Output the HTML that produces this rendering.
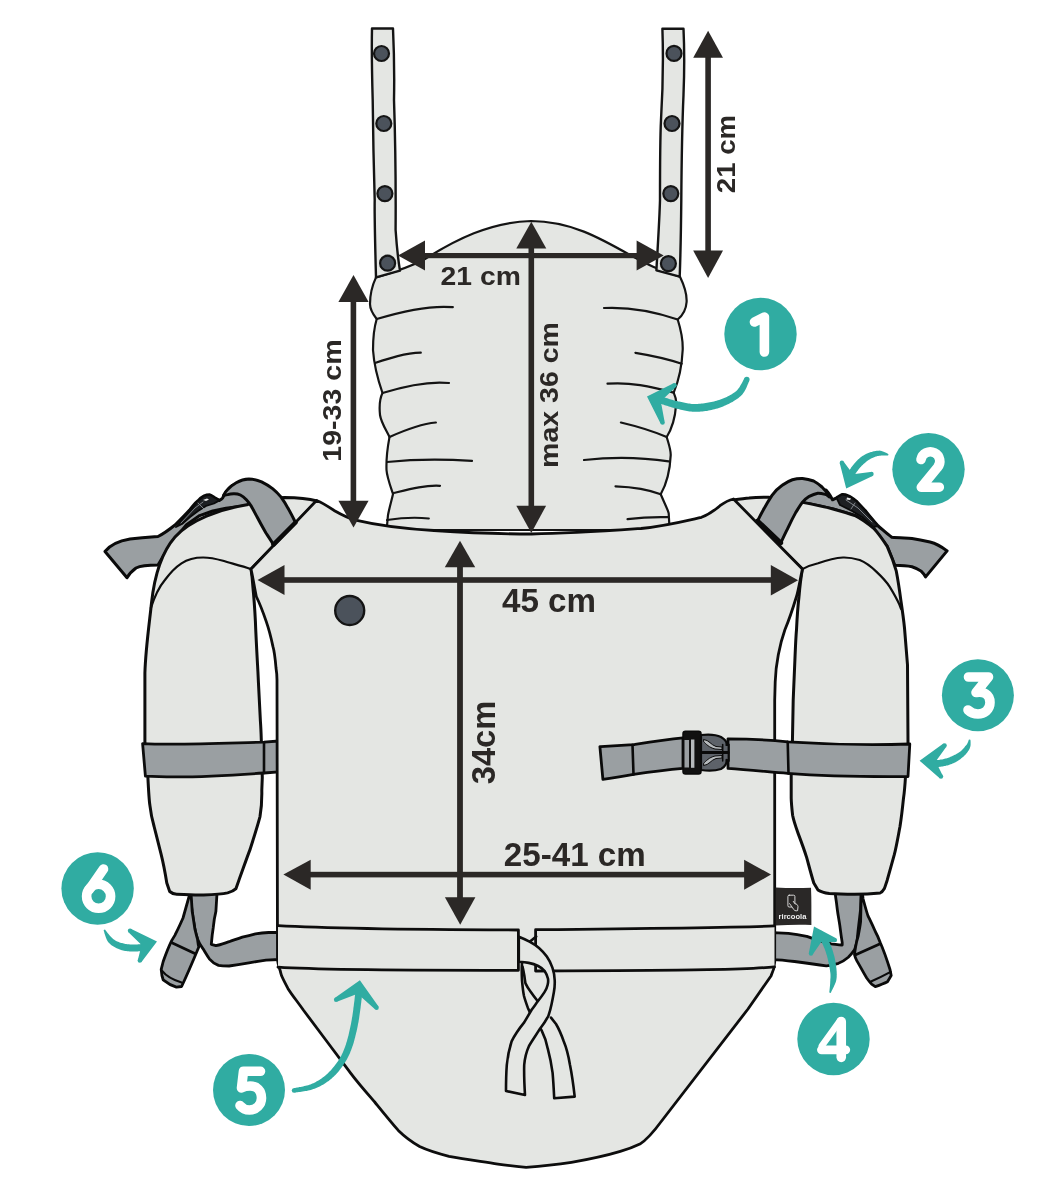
<!DOCTYPE html>
<html><head><meta charset="utf-8">
<style>
html,body{margin:0;padding:0;background:#fff;}
body{width:1062px;height:1204px;overflow:hidden;}
svg{display:block;will-change:transform;}
.t{font-family:"Liberation Sans",sans-serif;font-weight:bold;fill:#2b2826;}
</style></head>
<body>
<svg width="1062" height="1204" viewBox="0 0 1062 1204">
<g stroke-linejoin="round" stroke-linecap="round">

<!-- ===== wing straps (behind pads) ===== -->
<path d="M105,551.5 C110,545 118,541 130,539 C145,537.5 152,537 158,536.5 C165,533 170,529 175,525 C180,520 185,515 189.8,509.7 C193,506 195,503 197.7,501.1 C200,498 202,497 204.3,495.8 C206,495 208,494.8 209.6,494.8 C211,495 213,496.5 214.8,497.8 L219.4,500.4 C221,499.5 222,498.8 222.7,497.8 L226,491.9 C228,489 230,487 232.6,485.3 L258,498 L252,505 L240,506.4 L226,508.3 L212.8,511 L199.7,515.6 L186.5,524.8 L170,545 L158,565 C148,565 140,566 136,568 C132,571 129,574 127,577.7 Z" fill="#9a9fa2" stroke="#0a0a0a" stroke-width="3"/>
<path d="M176,527 L184,518 L190,511 L197.7,501.1 L204.3,495.8 L209.6,494.8 L214.8,497.8 L219.4,500.4 L214,503.5 L206,506 L198,511 L190,517 L182,524 Z" fill="#1d1f22" stroke="#0a0a0a" stroke-width="1.8"/><path d="M181,523 L195,508 L203,502 M198,503 L204,509" stroke="#8a8f94" stroke-width="0.9" fill="none"/><path d="M203,500 L207,498.5 L209,499.5 L206,501 Z" fill="#e8e8e8"/>
<path d="M947.1,550.9 C940,545.5 936,543.5 930,542 C920,539.5 915,538.8 912,538.4 C905,538 898,537.8 891.8,537.3 C887,534 883,530 878.2,526 C873,520 868,514 866.1,511.6 C862,507 859,504 856.3,501.1 C853,498.5 851,497 848.3,495.8 C846,494.8 844,494.4 842.4,494.5 C840,495.5 838,497 836.5,497.8 L832.5,499.8 C831,497 830,495 828.6,493.2 L826,490 L800,496 L795,512 L808,503.4 L833,509 L855.6,515.8 L873.7,528.3 L887.2,546.4 L894.8,565.3 C903,565.5 908,566 912,566.7 C916,568 919,569.5 921.1,571.2 C923,573 924.5,575 925.6,576.9 Z" fill="#9a9fa2" stroke="#0a0a0a" stroke-width="3"/>
<path d="M836.5,497.8 L842.4,494.5 L848.3,495.8 L856.3,501.1 L866.1,511.6 L878,526 L873,527 L862,517 L852,511 L840,505 Z" fill="#1d1f22" stroke="#0a0a0a" stroke-width="1.8"/><path d="M846,500 L858,508 L872,522 M855,503 L851,509" stroke="#8a8f94" stroke-width="0.9" fill="none"/><path d="M847,497.5 L851,498.5 L850,500 L846.5,499.5 Z" fill="#e8e8e8"/>

<!-- hanging straps left -->
<path d="M189.5,885 L190.2,895.5 C191,902 191.5,907 192.2,911.4 C193,918 194,924 194.8,928.5 C195.5,933 196.5,936 197.5,939 C199,943 201,946 202.7,948.3 C205,952 207,955.5 209.3,958.8 C212,962 215,964 218.5,965.4 C222,966 226,966 229.1,966 C236,965 242,964 248.9,962.8 C255,961.8 260,961 266,960.1 L279,959.5 L279,932.5 L268.6,932.5 C264,932.8 260,933.2 255.5,933.8 C251,935 247,936 242.3,937.1 C238,938.5 234,940 229.1,941.7 C225,943 220,945 215.9,945.6 L211.3,944.3 C211.8,938 212.5,932 213.3,927.2 C214,920 215,915 215.9,911.4 L217.5,885 Z" fill="#9a9fa2" stroke="#0a0a0a" stroke-width="2.8"/>
<path d="M191,885 L189.5,895 C187,904 185,911 183,918 C180,925 177.5,930 175,935.1 L171.8,940.4 C168,948 165.5,955 163.2,961.5 L161.2,969.4 C161.5,974 162,977 163.2,979.9 C167,983 171,985.5 176.4,987.2 L181.6,986.5 C187,975 193,961 198.8,947 C198,944 197.8,941 197.5,939 C196,934 195.5,931 194.8,928.5 C193.8,922 193,916 192.2,911.4 L190.5,885 Z" fill="#9a9fa2" stroke="#0a0a0a" stroke-width="2.8"/>
<path d="M172.4,943 L194.8,953.5" fill="none" stroke="#0a0a0a" stroke-width="2.8"/>
<path d="M161.9,970.7 C166,976 173,980 181.6,982.5" fill="none" stroke="#0a0a0a" stroke-width="2.2"/>

<!-- hanging straps right -->
<path d="M835,885 L835.5,896 C836.3,901 836.8,905 837.3,909.5 C838,915 839,920 839.8,925.4 C840.5,931 841.3,937 842.2,942.5 L842.2,945 C838,944.6 835,944.2 831.2,943.8 C828,943 825,942 821.4,941.3 C816,939.5 811,938 806.7,936.4 C800,935 794,934 788.4,933.3 L773,932.7 L773,959.7 C780,960 787,960.7 794.5,961.5 C800,962.2 806,963 812.8,964 C817,964.7 821,965.3 826.3,965.8 C830,965.5 834,964.5 838.5,963.3 C842,962 845,960 848.3,957.2 C851,954.5 853,952 854.5,949.9 C855.5,947 856.2,945 856.9,942.5 C857.5,937 858,931 858.7,925.4 C859.5,919 860,914 860.6,909.5 L861.5,885 Z" fill="#9a9fa2" stroke="#0a0a0a" stroke-width="2.8"/>
<path d="M861.5,885 L861.2,897 C861,905 860.8,913 860.6,921.7 C860,927 859,932 858.1,936.4 C857,940 856.3,943 855.7,946.2 C855,950 854.7,952 854.5,954.8 C855,957 855.8,959 856.9,960.9 C860,966 863,972 866.7,978 C868.5,980.5 870,982.5 871.6,984.1 L875.3,986.6 C880,985 884,983.5 887.5,981.7 L891.2,975.6 L890,969.5 C887,960 884,951 880.2,942.5 C878.5,938 877,934.5 875.3,931.5 C872.5,925 870,920 867.9,915.6 C866,910 864.5,904 863,898.5 Z" fill="#9a9fa2" stroke="#0a0a0a" stroke-width="2.8"/>
<path d="M855.7,954.8 L880.2,943.8" fill="none" stroke="#0a0a0a" stroke-width="2.8"/>
<path d="M870.4,981.7 C877,979 884,975.5 890.6,971.9" fill="none" stroke="#0a0a0a" stroke-width="2.2"/>

<!-- ===== arm pads ===== -->
<path d="M317,501 C310,499 300,497.5 284.5,497.4 C270,498 255,501 246.8,504.8 C220,509 190,520 175,537 C162,552 154.5,575 151.5,603 C149.5,622 145.5,650 144.9,673 L144.9,743.6 C146,760 147,770 147.8,775.6 C148.5,790 149,800 149.9,805.3 C151,815 152.5,821 154.1,826.5 C156.5,836 159,846 161.2,854.7 C163.5,864 165.5,875 166.8,883 L169.7,891.5 C172,893.5 174,894.3 176.7,894.3 C190,895 200,895.2 203.6,895 C215,894.5 222,894 227.6,892.9 C231,892 234,890.5 236,888.6 L238.9,880.2 C242,872 246,860 250.2,849.1 C253,840 257,828 260,816.6 C261.5,808 262,800 261.8,790 L262.3,777.5 L261.3,740 C261,730 260.7,725 260.4,721.1 C259.5,705 258.7,688 257.9,671.3 C257,655 256,638 255.4,621.4 C254.8,610 254,598 253,588.2 C252.5,580 251.8,574 251,569.1 Z" fill="#e4e6e3" stroke="#0d0d0d" stroke-width="3"/>
<path d="M150.8,608.2 C155,595 159,587 164.9,580 C170,573 175,567.5 181.5,563.3 C188,559 195,557.5 203.1,557.5 C210,557.5 216,558.8 223,560.8 C232,563.5 242,566 251,569.1" fill="none" stroke="#0d0d0d" stroke-width="2.2"/>

<path d="M733,500 C740,499 745,498.3 749,498 C756,497.3 762,497.2 768.5,497.2 C785,498.5 795,500.5 808,503.4 C818,505.5 826,507 833,509 C842,511.5 849,513.5 855.6,515.8 C862,519 868,523.5 873.7,528.3 C879,534 883,540 887.2,546.4 C891,555 894,563 896.3,571.2 C898,580 899.5,590 900.8,600 C902,608 903.5,618 904.5,628 C905.5,640 906.5,652 907.5,665 L908,742.8 L905.6,775 C905,785 904.5,792 903.5,798.2 C902.5,808 901.5,817 900,826.5 C898,837 896.5,846 894.3,854.7 C892,863 889.5,872 887.2,880.2 L884.4,888.6 C883,891 881.5,892.5 880.2,892.9 C870,894 862,894.3 854.7,894.3 C845,894.3 835,894 829.3,893.6 C825,893 821,892 818,890 L813.8,883 C811,874 809,866 806.7,857.6 C804,849 801,841 798.2,833.6 C795.5,826 793.5,820 792.6,815.2 C791.8,808 791.3,803 791.2,798.2 L791.2,774.2 L792.4,742.8 C792.8,725 793,712 793.2,700 C794,680 794.5,670 794.9,660 C795.5,645 796,635 796.5,629.8 C797.2,615 798,605 799,596.5 C800,585 801,577 802.4,569.1 Z" fill="#e4e6e3" stroke="#0d0d0d" stroke-width="3"/>
<path d="M802.4,569.1 C808,566 813,564.5 818.1,563.3 C826,560.5 835,558 843,557.5 C849,557.3 854,558.3 859.7,560 C866,562.5 871,566.5 876.3,571.6 C881,576 886,581 889.6,586.6 C893.5,593 897,599 899.5,604.8 L901,609" fill="none" stroke="#0d0d0d" stroke-width="2.2"/>

<!-- arm bands -->
<path d="M142.6,743.6 C175,745.5 230,743 264,742.2 L279,741 L279,771.9 L264,773 C230,775.5 175,778 145.4,776.1 Z" fill="#9a9fa2" stroke="#0d0d0d" stroke-width="2.8"/>
<path d="M264,742.2 L264,773" fill="none" stroke="#0d0d0d" stroke-width="2.6"/>

<!-- ===== loops (gray) ===== -->
<path d="M223.5,495.4 C225,492.5 226,491 227.7,489.5 C230.5,486.5 233,484.5 236.2,482.7 C240,480.5 244.5,479 248.9,478.9 C253.5,479 257.5,480.2 261.6,481.9 C265.5,483.8 269,486 272.6,488.6 C275.8,491.2 278.5,494 281.1,497.1 C283.5,500.5 285.8,504 287.9,508.1 C290.5,512.5 293,517.5 295.5,522.5 L273.5,544.6 C271,540.5 268.5,536.8 265.8,532.7 C262.8,527.5 260,522.5 257.4,517.5 C255.2,513.5 253.3,509.8 251.4,506.4 C249.8,503.8 248.2,501.6 246.4,499.7 C244.5,497.7 242.5,496 240.4,495 C238.3,494 236,493.6 233.6,493.7 C231.5,493.8 229.5,494.1 227.7,494.6 Z" fill="#9a9fa2" stroke="#0a0a0a" stroke-width="3"/>
<path d="M757.6,520.8 C762,512 767,503 772,495.4 C776,490 779,487.5 782.2,485.3 C786,482.5 789,480.8 792.4,479.7 C796,478.7 799,478.4 802.5,478.5 C806.5,479 810,479.8 813.6,481 C817,482.8 819.5,484.8 822,487 C824.5,489.5 826.5,492 828,494.6 L829.5,497 L826.3,494.6 C823,493.8 821,493.2 817.8,493.3 C814.5,494 812,495 809.3,496.3 C806.5,498 804.5,500 802.5,502.2 C800,505.5 798,509 795.8,512.4 C793,517.5 790.5,522.5 788.1,527.6 C785.5,533 783,538 780.9,542.9 Z" fill="#9a9fa2" stroke="#0a0a0a" stroke-width="3"/>

<!-- ===== headrest ===== -->
<path d="M376,277.4 C395,272 410,267 425,259 C455,240 490,222 531,221 C570,221 600,238 630,255 C645,263 660,271 680,276.7 C684,285 687,295 686.6,302 C686,311 682,316 677.7,319.5 C681,330 683,340 682.7,349.8 C682,365 679,380 673.7,392.6 C676,398 677,402 676,405.6 C675,420 671,430 666.7,437 C669,445 671,450 670.7,455.4 C670,470 666,485 660.7,494.3 C664,502 668,510 668.7,513.2 L669.6,530 L386.6,530 L388,515 C390,505 392,499 393,494 C390,485 387,477 386.5,470 C386,455 388,445 389.5,437 C385,428 381,422 380,415 C379,405 380,398 382.5,393 C378,380 374,365 373,350 C373,338 374,328 376.7,319 C372,313 370,309 370,304 C370,295 372,286 376,277.4 Z" fill="#e4e6e3" stroke="#141414" stroke-width="2.2"/>
<g fill="none" stroke="#141414" stroke-width="2.2">
<path d="M376.7,319 C400,312 430,305 452.8,307.2"/>
<path d="M375,363 C390,358 405,353 420.8,352.7"/>
<path d="M382.5,393 C405,386 430,381 449,383"/>
<path d="M389.5,437 C405,430 420,424 435.9,422.5"/>
<path d="M387,462 C415,459 445,459 472,460.9"/>
<path d="M393.6,493 C410,489 425,485 440,485.8"/>
<path d="M387,520 C400,518 415,517 428.8,518.5"/>
<path d="M604,308 C625,307 650,310 677.7,319.5"/>
<path d="M635.4,352.8 C655,356 668,359 681.7,363.7"/>
<path d="M607.5,383.7 C630,382 650,386 673.7,392.6"/>
<path d="M620.9,422.5 C640,427 655,432 666.7,437"/>
<path d="M584,460 C610,457 640,457 668.7,461.4"/>
<path d="M615.5,486.3 C635,487 650,490 660.7,494.3"/>
<path d="M627.5,519.2 C645,517 660,517 667.7,517.2"/>
</g>

<!-- ===== top straps ===== -->
<path d="M372,28.5 L393,28.5 C394,50 394.5,75 394,100 C395,130 396,170 395.6,230 C397,250 398.5,262 400,270.7 L376,277.4 C375,240 374.5,210 374.7,200 C373.5,160 373,130 372.7,100 C372,75 371.5,50 372,28.5 Z" fill="#e4e6e3" stroke="#141414" stroke-width="2.4"/>
<path d="M662.4,28.8 L683.5,28.8 C684.5,50 684.5,70 683.5,95 C682,130 681.5,170 681.3,200 C681,230 680.5,255 679.7,276.7 L656.4,270.3 C657.5,250 659.5,220 660,200 C660,170 660,140 661,120 C662.5,95 663.5,60 662.4,28.8 Z" fill="#e4e6e3" stroke="#141414" stroke-width="2.4"/>
<g fill="#4b525b" stroke="#141414" stroke-width="2.2">
<circle cx="381.5" cy="53.5" r="7.5"/>
<circle cx="383.8" cy="123.5" r="7.5"/>
<circle cx="384.9" cy="193.6" r="7.5"/>
<circle cx="387.6" cy="263.2" r="7.5"/>
<circle cx="674" cy="53.4" r="7.5"/>
<circle cx="672" cy="123.5" r="7.5"/>
<circle cx="670.8" cy="193.6" r="7.5"/>
<circle cx="668.4" cy="263.6" r="7.5"/>
</g>

<!-- ===== body ===== -->
<path d="M316.5,500.5 C323,503 329,507 335,511 C342,515 348,518 355.6,520.2 C380,526 405,529 434,530.5 C465,532.5 500,534 531.6,534 C570,533.5 605,531 641,528.5 C665,526 685,521 701.5,517.3 C710,514 715,510 720,505.7 C725,502 729,500 733.5,499 L802.4,569.1 C800,580 798.5,590 796.5,596.5 C793,608 789,620 784.9,629.8 C782,638 780,646 778.3,654.7 C776.5,664 775.5,672 775.2,682 C775,690 774.8,695 774.7,700 L774.7,962 C774.5,968 773,972 771,976 L748,1009 L662,1120.5 C655,1130 648,1139 639.9,1144.1 C633,1147.5 627,1149.5 620.3,1151.4 C605,1156 588,1159.5 571.4,1162.4 C556,1164.8 541,1166.3 526.1,1167.3 C516,1166.4 507,1165.5 497.9,1164.1 C482,1161.5 466,1159.5 449,1156.3 C438,1153.5 428,1150.5 419.6,1146.5 C412,1142 405,1137 398.3,1130.4 C390,1121 382,1111 374.7,1102 C366,1092 358,1083 351,1073.6 L327.3,1042 L303.7,1010.5 C297,1001 292,995 287.9,988.4 C285,983 283,979 281.6,975.8 C280.8,973 280.4,972 280.3,971 C278.5,966 277.5,962 277.5,958 L277,680 C277,675 276.5,671 276,668 C275,656 274,650 272.9,646.4 C270.5,635 268.5,628 266.2,621.4 C263,612 259.5,603 256.3,596.5 C254.5,588 253,578 251,569.1 Z" fill="#e4e6e3" stroke="#0d0d0d" stroke-width="2.8"/>

<path d="M295.5,522.5 L273.5,544.6 M757.6,520.8 L780.9,542.9" stroke="#0a0a0a" stroke-width="4.5" fill="none"/>
<!-- waistband -->
<path d="M278,925.6 C320,928 400,929.5 518.4,930 L518.4,970.3 C400,970.5 320,970 278,967.2" fill="#e4e6e3" stroke="#0d0d0d" stroke-width="2.8"/>
<path d="M774.5,925.9 C750,927 700,928 535.6,929.7 L535.6,971 C700,970.5 750,969.5 774.5,966.8" fill="#e4e6e3" stroke="#0d0d0d" stroke-width="2.8"/>

<!-- tie ribbon -->
<g fill="none" stroke="#0d0d0d" stroke-width="2.6">
<path d="M530,941.5 L536.2,936.5"/>
<path d="M522,962.9 C521.5,970 521.8,976 522,980.3 C522.5,986 523,991 524,996 C525,1000 526.5,1004 527.9,1007.9 C530,1013 533,1018 536,1022 C538,1025 540,1027.5 541.6,1030.3 C544.5,1036 546.5,1042 547.9,1049.2 C550,1057 551.5,1065 552.6,1072.9 C553.3,1081 553.8,1090 554.2,1098.2 L574.7,1096.6 C573.5,1086 572,1075 570,1065 C568.5,1056 566.5,1048 563.7,1041.3 C561.5,1035 559,1029 556,1024 L551,1017.6"/>
<path d="M522.5,966.5 C523.3,969.5 523.8,972.5 524.3,975.5 C524.6,978 525,981 525.5,983.4 C527,986.5 528.5,989 530.3,991.3 C532.5,994.5 535,997.8 537.4,1000.8 L542,1006"/>
</g>
<path d="M518.8,936.8 C522.5,938.3 526,939.8 529.5,941.6 C533,943.5 536.2,945.5 539,947.9 C542,950.5 544.6,953.4 546.8,956.6 C549.2,960 551,963.7 552.4,967.6 C553.8,971.7 554.6,976 554.7,980.3 C554.9,984.3 554.6,988.2 553.9,992.1 C553.2,996.2 552.5,1000 551.6,1004 C550.8,1008 549.7,1012 548.4,1015.8 C546,1020.5 543,1024.8 540,1028.7 C536.5,1034.5 532.5,1040 529,1046 C526.5,1051.5 524.8,1058 524.2,1065 C523.9,1075 524.4,1085 525,1095 L506,1091 C506,1082 506.2,1073 506.8,1065 C507.6,1056.5 509.3,1048.5 511.6,1041.3 C515,1034.5 519.5,1028.2 524.2,1022.4 L531.8,1009.5 C534,1006.6 536,1003.7 538.2,1000.8 C540.5,997.9 542.6,995 544.5,992.1 C546,989.8 547.1,987.4 547.6,985 C548.2,982.9 548.3,980.8 548,978.7 C547.3,975.8 546.1,973.2 544.5,970.8 C542.6,968.8 540.5,967.2 538.2,966 C535.2,964.5 532,963.5 528.7,962.9 C525.4,962.3 522.1,962 518.8,961.7 Z" fill="#e4e6e3" stroke="#0d0d0d" stroke-width="2.6"/>

<!-- right strap with buckle -->
<path d="M599.9,746.7 C610,746 620,745.5 633.5,744.7 C650,742 665,739.5 683,737.8 L683,768.4 C665,770 650,772 633.5,774.4 C623,776.5 613,778 602.9,779.3 Z" fill="#9a9fa2" stroke="#0a0a0a" stroke-width="2.8"/>
<path d="M632.5,744.7 L633.5,774.4" stroke="#0a0a0a" stroke-width="2.6" fill="none"/>
<path d="M728,738.8 C750,739 770,740 787.7,741.8 C830,744.5 870,745.2 909.8,744 L908,776.5 C870,776.8 830,776.6 787.7,773.4 C770,772 750,770 728,768.4 Z" fill="#9a9fa2" stroke="#0a0a0a" stroke-width="2.8"/>
<path d="M787.7,741.8 L788.5,773.4" stroke="#0a0a0a" stroke-width="2.6" fill="none"/>
<!-- buckle -->
<rect x="683" y="731.3" width="18" height="42.8" rx="2.5" fill="#111" stroke="#0a0a0a" stroke-width="1.5"/>
<rect x="684.5" y="740" width="4.5" height="27.5" fill="#9a9fa2"/>
<rect x="691" y="739.5" width="3.4" height="28.3" fill="#b5b9bc"/>
<path d="M701,735 C710,734 717,735 721,737 C726,740 727,743 726.5,745 L728.7,744.5 L728.7,761 L726.5,760 C727,763 725,767 721,769 C715,771 708,771 701,770 Z" fill="#5d6269" stroke="#0a0a0a" stroke-width="2.2"/>
<path d="M704,739.5 C709,740 711,745 716,746.5 L722,747 L722,749.5 L715,749 C709,747.5 706,744 704,742 Z" fill="#b5b9bc" stroke="#0a0a0a" stroke-width="1"/>
<path d="M704,765.5 C709,765 711,760 716,758.5 L722,758 L722,755.5 L715,756 C709,757.5 706,761 704,763 Z" fill="#b5b9bc" stroke="#0a0a0a" stroke-width="1"/>
<path d="M702.5,752.5 L728,752.5" stroke="#0a0a0a" stroke-width="3" fill="none"/>
<path d="M722.7,744.5 L722.7,761" stroke="#0a0a0a" stroke-width="1.5" fill="none"/>

<!-- snap on body -->
<circle cx="349.7" cy="610.5" r="14.5" fill="#4b525b" stroke="#141414" stroke-width="2.4"/>

<!-- logo label -->
<path d="M775.7,887.5 C788,888.3 800,888.2 811,887.8 C811.6,900 811.3,912 811.4,925 C800,924.6 788,924.8 775.7,925.4 Z" fill="#2a2827"/>
<rect x="787.9" y="895.2" width="7" height="11.8" rx="1.3" fill="none" stroke="#e8e8e8" stroke-width="0.9"/>
<path d="M789.6,903.6 L792.6,907.8 C794,910.5 795.5,911.3 797.6,910.6 L798,906.6 C797.6,904.6 796.4,903.6 795,903.9 L793.3,901.4" fill="#2a2827" stroke="#e8e8e8" stroke-width="0.9"/>
<text x="778.6" y="919.2" font-family="Liberation Sans" font-weight="bold" font-size="7.6" fill="#f0f0f0" textLength="27.8" lengthAdjust="spacingAndGlyphs">rircoola</text>
</g>

<!-- ===== dimension arrows ===== -->
<g fill="#2b2826" stroke="none">
<rect x="705.3" y="50" width="5.6" height="206"/>
<path d="M708.1,30.8 L723,57.7 L693.2,57.7 Z"/>
<path d="M708.1,278 L723,250.6 L693.2,250.6 Z"/>
<rect x="415" y="253" width="230" height="5.2"/>
<path d="M398,255.6 L425,240.5 L425,270.5 Z"/>
<path d="M663.7,255.6 L636.6,240.5 L636.6,270.5 Z"/>
<rect x="528.5" y="240" width="5.6" height="272"/>
<path d="M531.3,221.8 L546.3,248.6 L516.3,248.6 Z"/>
<path d="M531.3,533 L546.1,505.7 L516.3,505.7 Z"/>
<rect x="350.6" y="295" width="5.6" height="210"/>
<path d="M353.5,275 L368.6,302 L338.4,302 Z"/>
<path d="M353.5,527.5 L368.6,500.7 L338.4,500.7 Z"/>
<rect x="275" y="577.2" width="505" height="5.6"/>
<path d="M257.5,580 L284.5,565 L284.5,595 Z"/>
<path d="M798.1,580.3 L770.8,565.1 L770.8,595.4 Z"/>
<rect x="457.1" y="560" width="5.8" height="340"/>
<path d="M460,540.7 L475.2,567.3 L444.8,567.3 Z"/>
<path d="M460.2,924.8 L475.4,897.3 L444.9,897.3 Z"/>
<rect x="300" y="871.8" width="450" height="5.6"/>
<path d="M283.4,874.6 L310.7,859.7 L310.7,889.8 Z"/>
<path d="M771,874.6 L744.1,859.7 L744.1,889.7 Z"/>
</g>

<!-- ===== texts ===== -->
<text class="t" x="440.6" y="284.6" font-size="26.1" textLength="80.3" lengthAdjust="spacingAndGlyphs">21 cm</text>
<text class="t" x="502" y="611.6" font-size="33.9" textLength="94" lengthAdjust="spacingAndGlyphs">45 cm</text>
<text class="t" x="503.8" y="865.7" font-size="33.4" textLength="142" lengthAdjust="spacingAndGlyphs">25-41 cm</text>
<text class="t" transform="translate(735,193.2) rotate(-90)" x="0" y="0" font-size="26.25" textLength="78.2" lengthAdjust="spacingAndGlyphs">21 cm</text>
<text class="t" transform="translate(558.2,468) rotate(-90)" x="0" y="0" font-size="25.8" textLength="146" lengthAdjust="spacingAndGlyphs">max 36 cm</text>
<text class="t" transform="translate(341.1,461.7) rotate(-90)" x="0" y="0" font-size="25.8" textLength="122.3" lengthAdjust="spacingAndGlyphs">19-33 cm</text>
<text class="t" transform="translate(495.1,784.2) rotate(-90)" x="0" y="0" font-size="33.6" textLength="83.4" lengthAdjust="spacingAndGlyphs">34cm</text>

<!-- ===== teal callouts ===== -->
<g fill="#30aca2">
<circle cx="760.5" cy="334" r="36.2"/>
<circle cx="928.5" cy="469.3" r="36.2"/>
<circle cx="977.9" cy="695.3" r="36"/>
<circle cx="833.5" cy="1039" r="36.2"/>
<circle cx="249" cy="1090" r="36"/>
<circle cx="97.6" cy="888.5" r="36.2"/>
</g>
<g fill="none" stroke="#fff" stroke-width="9.6" stroke-linecap="round" stroke-linejoin="round">
<path d="M754.5,322 L764.4,317 L764.4,352"/>
<path d="M921,459.5 A9.5,9.5 0 1 1 937.5,467.5 L921.3,487.2 L939.3,487.2"/>
<path d="M968.5,677 L988.5,677 L976,692.5 C983,691 990,694 990,702.5 C990,710 984,714 978,714 C973,714 970,712 968,710"/>
<path d="M841.25,1057.35 L841.25,1021.65"/><path d="M821.5,1049.85 L845.7,1049.85" stroke-width="8.9"/><path d="M821.8,1045.8 L840.2,1020.5" stroke-width="6.4"/>
<path d="M260.5,1071.3 L243.5,1071.3 L241.5,1088 C244,1086.5 247,1086 250,1086 C257,1086 261.5,1091 261.5,1098 C261.5,1105 256,1110 249.5,1110 C245,1110 242,1108 240,1105.5"/>
<path d="M103.5,869 L89,890"/>
<circle cx="98.6" cy="896.3" r="12"/>
</g>
<g><circle cx="746.8" cy="379.6" r="2.75" fill="#30aca2"/><path d="M744.4,378.3 L744.1,378.8 L743.7,379.5 L743.3,380.2 L742.9,381.0 L742.5,381.9 L742.0,382.8 L741.5,383.7 L741.0,384.6 L740.4,385.6 L739.9,386.5 L739.3,387.4 L738.7,388.3 L738.0,389.1 L737.4,389.9 L736.8,390.6 L736.1,391.2 L735.3,391.8 L734.4,392.5 L733.5,393.1 L732.4,393.8 L731.4,394.4 L730.3,395.1 L729.1,395.7 L727.9,396.3 L726.7,396.9 L725.5,397.4 L724.2,398.0 L723.0,398.5 L721.7,399.0 L720.4,399.5 L719.1,399.9 L717.9,400.3 L716.6,400.7 L715.4,401.1 L714.0,401.4 L712.7,401.8 L711.3,402.1 L709.9,402.3 L708.5,402.6 L707.1,402.8 L705.7,403.0 L704.3,403.2 L702.9,403.4 L701.6,403.6 L700.2,403.7 L698.9,403.8 L697.6,403.9 L696.4,404.0 L695.2,404.0 L694.1,404.0 L692.9,403.9 L691.7,403.9 L690.6,403.7 L689.4,403.6 L688.3,403.4 L687.1,403.2 L686.0,403.0 L684.8,402.8 L683.7,402.6 L682.6,402.3 L681.4,402.1 L680.3,401.8 L679.2,401.6 L678.1,401.4 L677.1,401.1 L676.1,400.9 L675.0,400.6 L674.0,400.4 L673.0,400.1 L672.0,399.8 L671.0,399.5 L670.0,399.2 L669.0,398.9 L668.1,398.6 L667.2,398.3 L666.2,398.0 L665.4,397.8 L664.5,397.5 L663.7,397.3 L662.9,397.1 L662.2,396.9 L661.5,396.7 L660.9,396.6 L660.3,396.4 L659.7,396.3 L659.2,396.2 L658.7,396.1 L658.2,396.0 L657.8,395.9 L657.4,395.9 L657.0,395.8 L656.7,395.7 L656.4,395.7 L656.1,395.6 L655.9,395.6 L655.7,395.6 L654.3,402.4 L654.6,402.5 L654.8,402.5 L655.1,402.6 L655.5,402.7 L655.8,402.7 L656.1,402.8 L656.5,402.9 L656.9,402.9 L657.3,403.0 L657.7,403.1 L658.2,403.2 L658.7,403.3 L659.3,403.5 L659.8,403.6 L660.4,403.8 L661.1,403.9 L661.7,404.1 L662.4,404.4 L663.2,404.6 L664.1,404.9 L664.9,405.2 L665.8,405.5 L666.8,405.8 L667.8,406.1 L668.8,406.5 L669.8,406.8 L670.9,407.1 L672.0,407.5 L673.1,407.8 L674.2,408.1 L675.4,408.4 L676.5,408.6 L677.6,408.9 L678.7,409.1 L679.8,409.4 L680.9,409.7 L682.1,409.9 L683.3,410.2 L684.5,410.5 L685.8,410.7 L687.0,411.0 L688.3,411.2 L689.6,411.4 L691.0,411.5 L692.4,411.7 L693.8,411.8 L695.2,411.8 L696.6,411.8 L698.0,411.8 L699.5,411.7 L700.9,411.6 L702.4,411.5 L703.9,411.3 L705.4,411.1 L707.0,410.9 L708.5,410.6 L710.0,410.3 L711.5,410.0 L713.0,409.6 L714.5,409.2 L716.0,408.8 L717.5,408.4 L718.9,407.9 L720.3,407.5 L721.7,406.9 L723.1,406.4 L724.4,405.8 L725.8,405.2 L727.2,404.6 L728.6,404.0 L729.9,403.3 L731.2,402.6 L732.5,401.9 L733.8,401.1 L735.0,400.3 L736.2,399.6 L737.4,398.8 L738.5,397.9 L739.5,397.1 L740.5,396.2 L741.5,395.2 L742.5,394.2 L743.3,393.1 L744.1,392.0 L744.8,390.8 L745.4,389.7 L746.0,388.5 L746.5,387.4 L747.0,386.3 L747.4,385.3 L747.8,384.3 L748.2,383.4 L748.5,382.6 L748.8,381.9 L749.0,381.4 L749.2,380.9Z" fill="#30aca2"/><path d="M673.6,383.2 L647.0,396.6 L660.7,423.7 L664.5,421.3 L660.8,401.2 L675.4,387.4Z" fill="#30aca2"/><circle cx="674.5" cy="385.3" r="2.2" fill="#30aca2"/><circle cx="662.6" cy="422.5" r="2.2" fill="#30aca2"/><path d="M888.5,454.1 L888.2,453.9 L887.8,453.8 L887.4,453.6 L887.0,453.3 L886.5,453.1 L886.0,452.8 L885.4,452.5 L884.8,452.3 L884.2,452.0 L883.6,451.7 L882.9,451.4 L882.2,451.2 L881.5,450.9 L880.8,450.7 L880.0,450.7 L879.3,450.6 L878.6,450.7 L877.9,450.7 L877.2,450.8 L876.5,450.8 L875.8,450.9 L875.1,451.1 L874.4,451.2 L873.7,451.3 L873.0,451.5 L872.3,451.7 L871.6,451.9 L870.9,452.1 L870.3,452.3 L869.6,452.5 L869.0,452.7 L868.3,453.0 L867.7,453.2 L867.1,453.5 L866.5,453.8 L865.8,454.1 L865.2,454.4 L864.7,454.7 L864.1,455.0 L863.5,455.4 L862.9,455.7 L862.4,456.1 L861.8,456.4 L861.3,456.8 L860.8,457.2 L860.3,457.6 L859.8,458.0 L859.3,458.4 L858.8,458.9 L858.3,459.3 L857.8,459.8 L857.4,460.3 L856.9,460.7 L856.4,461.2 L856.0,461.7 L855.5,462.2 L855.1,462.7 L854.6,463.2 L854.2,463.7 L853.8,464.2 L853.4,464.7 L853.0,465.2 L852.6,465.7 L852.2,466.2 L851.8,466.7 L851.4,467.3 L851.0,467.8 L850.7,468.4 L850.3,468.9 L849.9,469.5 L849.6,470.1 L849.2,470.6 L848.9,471.2 L848.5,471.7 L848.2,472.3 L847.9,472.8 L847.6,473.3 L847.4,473.8 L847.1,474.3 L846.9,474.7 L846.6,475.2 L846.4,475.7 L846.2,476.2 L846.1,476.6 L845.9,477.1 L845.8,477.5 L845.6,477.9 L845.5,478.3 L845.5,478.6 L845.4,478.9 L845.3,479.2 L845.3,479.5 L845.2,479.7 L845.2,479.8 L845.2,479.9 L845.1,480.0 L851.9,482.0 L851.9,481.8 L852.0,481.5 L852.1,481.2 L852.1,481.0 L852.2,480.7 L852.2,480.5 L852.3,480.3 L852.3,480.0 L852.4,479.8 L852.5,479.5 L852.5,479.3 L852.6,479.0 L852.7,478.7 L852.9,478.5 L853.0,478.2 L853.1,477.9 L853.3,477.5 L853.5,477.1 L853.8,476.7 L854.0,476.2 L854.3,475.8 L854.6,475.3 L854.9,474.8 L855.2,474.3 L855.5,473.8 L855.8,473.3 L856.1,472.8 L856.5,472.3 L856.8,471.8 L857.1,471.3 L857.5,470.9 L857.8,470.4 L858.1,470.0 L858.5,469.5 L858.8,469.1 L859.2,468.6 L859.6,468.2 L859.9,467.7 L860.3,467.3 L860.7,466.9 L861.1,466.5 L861.5,466.0 L861.9,465.6 L862.3,465.2 L862.7,464.9 L863.1,464.5 L863.5,464.1 L863.9,463.8 L864.3,463.4 L864.7,463.0 L865.2,462.7 L865.6,462.3 L866.0,462.0 L866.4,461.6 L866.9,461.3 L867.3,460.9 L867.7,460.6 L868.2,460.3 L868.6,460.0 L869.0,459.7 L869.5,459.4 L869.9,459.2 L870.4,458.9 L870.9,458.6 L871.4,458.4 L871.9,458.1 L872.4,457.9 L872.9,457.7 L873.5,457.4 L874.1,457.2 L874.6,457.0 L875.2,456.8 L875.8,456.6 L876.3,456.4 L876.9,456.3 L877.4,456.1 L878.0,456.0 L878.5,455.9 L879.0,455.8 L879.5,455.8 L880.0,455.7 L880.5,455.7 L881.0,455.6 L881.6,455.5 L882.2,455.5 L882.8,455.4 L883.5,455.4 L884.1,455.4 L884.7,455.4 L885.3,455.4 L885.9,455.5 L886.4,455.5 L886.9,455.5 L887.4,455.5 L887.8,455.5 L888.1,455.5Z" fill="#30aca2"/><path d="M839.7,463.1 L846.2,488.5 L872.6,476.0 L870.4,472.0 L853.0,474.3 L844.1,462.3Z" fill="#30aca2"/><circle cx="841.9" cy="462.7" r="2.2" fill="#30aca2"/><circle cx="871.5" cy="474.0" r="2.2" fill="#30aca2"/><path d="M969.0,739.4 L968.9,739.7 L968.7,740.0 L968.6,740.3 L968.5,740.7 L968.4,741.1 L968.2,741.5 L968.1,741.9 L967.9,742.3 L967.7,742.8 L967.5,743.2 L967.3,743.6 L967.1,744.0 L966.8,744.4 L966.6,744.8 L966.3,745.1 L966.0,745.4 L965.7,745.8 L965.3,746.1 L965.0,746.6 L964.7,747.0 L964.3,747.5 L964.0,747.9 L963.6,748.3 L963.2,748.8 L962.8,749.2 L962.4,749.6 L962.0,750.1 L961.5,750.5 L961.0,750.9 L960.6,751.3 L960.1,751.7 L959.5,752.1 L959.0,752.4 L958.4,752.8 L957.8,753.2 L957.1,753.6 L956.4,754.0 L955.7,754.4 L955.0,754.8 L954.3,755.1 L953.5,755.5 L952.8,755.8 L952.0,756.2 L951.3,756.5 L950.5,756.8 L949.8,757.2 L949.1,757.4 L948.4,757.7 L947.7,758.0 L946.9,758.2 L946.2,758.4 L945.4,758.6 L944.6,758.8 L943.8,759.0 L943.0,759.2 L942.2,759.4 L941.4,759.5 L940.6,759.6 L939.8,759.8 L939.0,759.9 L938.3,759.9 L937.6,760.0 L936.9,760.1 L936.3,760.1 L935.7,760.1 L935.2,760.1 L934.6,760.1 L934.0,760.0 L933.4,759.9 L932.8,759.8 L932.2,759.7 L931.7,759.6 L931.1,759.4 L930.5,759.3 L930.0,759.1 L929.5,759.0 L929.0,758.9 L928.5,758.8 L928.1,758.6 L927.7,758.6 L926.3,765.4 L926.6,765.5 L926.9,765.6 L927.2,765.6 L927.7,765.8 L928.2,765.9 L928.8,766.1 L929.4,766.2 L930.1,766.4 L930.8,766.5 L931.5,766.7 L932.3,766.8 L933.1,766.9 L933.9,767.0 L934.8,767.1 L935.7,767.1 L936.5,767.1 L937.4,767.1 L938.2,767.0 L939.0,766.9 L939.9,766.8 L940.8,766.7 L941.7,766.6 L942.6,766.4 L943.5,766.3 L944.4,766.1 L945.4,765.9 L946.3,765.6 L947.2,765.4 L948.1,765.2 L949.0,764.9 L949.9,764.6 L950.8,764.3 L951.7,764.0 L952.5,763.6 L953.4,763.2 L954.3,762.8 L955.1,762.4 L955.9,761.9 L956.8,761.4 L957.6,760.9 L958.3,760.4 L959.1,759.9 L959.9,759.4 L960.6,758.9 L961.3,758.3 L962.0,757.8 L962.6,757.3 L963.3,756.7 L963.9,756.2 L964.5,755.6 L965.0,755.1 L965.6,754.5 L966.1,753.9 L966.5,753.3 L967.0,752.7 L967.4,752.2 L967.9,751.6 L968.2,751.0 L968.6,750.4 L969.0,749.9 L969.3,749.3 L969.6,748.8 L969.8,748.2 L970.0,747.6 L970.2,747.0 L970.4,746.3 L970.5,745.7 L970.6,745.1 L970.6,744.5 L970.6,743.9 L970.6,743.3 L970.6,742.8 L970.6,742.3 L970.6,741.8 L970.6,741.4 L970.5,740.9 L970.5,740.6 L970.5,740.3 L970.4,740.0 L970.4,739.8Z" fill="#30aca2"/><path d="M943.4,743.6 L919.6,760.7 L939.7,778.3 L942.3,774.7 L935.7,761.4 L945.8,747.4Z" fill="#30aca2"/><circle cx="944.6" cy="745.5" r="2.2" fill="#30aca2"/><circle cx="941.0" cy="776.5" r="2.2" fill="#30aca2"/><path d="M830.7,992.9 L831.0,992.4 L831.3,991.8 L831.6,991.1 L832.0,990.3 L832.4,989.4 L832.9,988.5 L833.4,987.5 L833.9,986.4 L834.4,985.3 L834.9,984.2 L835.4,983.0 L835.8,981.9 L836.2,980.6 L836.4,979.4 L836.6,978.1 L836.7,976.9 L836.7,975.7 L836.8,974.5 L836.7,973.3 L836.7,972.0 L836.6,970.8 L836.5,969.5 L836.4,968.3 L836.2,967.0 L836.1,965.8 L835.9,964.6 L835.7,963.3 L835.5,962.1 L835.3,961.0 L835.1,959.8 L834.9,958.7 L834.6,957.6 L834.4,956.6 L834.1,955.5 L833.8,954.4 L833.5,953.4 L833.2,952.3 L832.9,951.3 L832.6,950.3 L832.2,949.3 L831.9,948.4 L831.6,947.4 L831.2,946.5 L830.9,945.6 L830.5,944.8 L830.2,943.9 L829.8,943.1 L829.5,942.4 L829.1,941.6 L828.7,940.8 L828.4,940.1 L828.0,939.4 L827.6,938.7 L827.2,938.1 L826.8,937.5 L826.4,936.9 L826.0,936.4 L825.6,935.8 L825.3,935.4 L824.9,934.9 L824.6,934.5 L824.3,934.1 L824.1,933.8 L823.8,933.4 L823.5,933.1 L823.3,932.7 L823.0,932.4 L822.7,932.0 L822.4,931.8 L822.2,931.5 L821.9,931.3 L821.7,931.1 L821.5,930.9 L821.3,930.7 L821.1,930.6 L821.0,930.5 L820.9,930.4 L820.9,930.4 L820.9,930.5 L820.9,930.4 L816.1,935.6 L816.3,935.7 L816.5,935.9 L816.7,936.0 L816.8,936.1 L816.9,936.2 L817.0,936.3 L817.1,936.3 L817.2,936.4 L817.2,936.5 L817.3,936.6 L817.4,936.7 L817.5,936.8 L817.7,936.9 L817.8,937.1 L818.0,937.3 L818.2,937.6 L818.4,937.9 L818.7,938.3 L819.0,938.7 L819.3,939.1 L819.7,939.5 L820.0,940.0 L820.3,940.4 L820.6,940.9 L820.9,941.4 L821.3,941.9 L821.6,942.4 L821.9,942.9 L822.2,943.5 L822.5,944.0 L822.8,944.6 L823.1,945.2 L823.4,945.9 L823.7,946.7 L824.0,947.4 L824.4,948.2 L824.7,949.0 L825.0,949.9 L825.3,950.7 L825.6,951.6 L825.9,952.5 L826.2,953.4 L826.5,954.4 L826.8,955.3 L827.1,956.3 L827.3,957.2 L827.6,958.2 L827.8,959.2 L828.0,960.2 L828.2,961.3 L828.5,962.3 L828.7,963.4 L829.0,964.6 L829.2,965.7 L829.4,966.9 L829.6,968.0 L829.8,969.2 L830.0,970.3 L830.1,971.4 L830.3,972.5 L830.4,973.6 L830.5,974.7 L830.5,975.7 L830.5,976.7 L830.5,977.6 L830.4,978.6 L830.3,979.7 L830.3,980.8 L830.2,981.9 L830.2,983.1 L830.1,984.2 L830.0,985.4 L829.9,986.5 L829.8,987.6 L829.7,988.6 L829.6,989.5 L829.5,990.4 L829.4,991.2 L829.3,991.9 L829.3,992.5Z" fill="#30aca2"/><path d="M808.8,953.3 L814.0,926.6 L836.1,938.2 L833.7,942.0 L821.3,942.1 L813.2,953.7Z" fill="#30aca2"/><circle cx="811.0" cy="953.5" r="2.2" fill="#30aca2"/><circle cx="834.9" cy="940.1" r="2.2" fill="#30aca2"/><circle cx="294.0" cy="1090.4" r="2.25" fill="#30aca2"/><path d="M294.4,1092.6 L295.0,1092.5 L295.8,1092.4 L296.7,1092.3 L297.7,1092.2 L298.8,1092.0 L300.0,1091.9 L301.3,1091.7 L302.6,1091.5 L304.0,1091.3 L305.3,1091.1 L306.7,1090.9 L308.1,1090.6 L309.5,1090.3 L310.8,1089.9 L312.1,1089.6 L313.4,1089.1 L314.5,1088.7 L315.7,1088.3 L316.8,1087.8 L317.9,1087.3 L319.1,1086.7 L320.2,1086.2 L321.3,1085.6 L322.4,1085.0 L323.4,1084.4 L324.5,1083.7 L325.6,1083.0 L326.6,1082.3 L327.7,1081.6 L328.7,1080.9 L329.7,1080.1 L330.7,1079.3 L331.7,1078.5 L332.6,1077.6 L333.6,1076.7 L334.5,1075.8 L335.4,1074.9 L336.3,1073.9 L337.2,1072.9 L338.1,1071.9 L339.0,1070.9 L339.8,1069.8 L340.6,1068.8 L341.4,1067.7 L342.1,1066.7 L342.9,1065.7 L343.6,1064.6 L344.3,1063.6 L344.9,1062.6 L345.6,1061.6 L346.2,1060.6 L346.8,1059.6 L347.3,1058.6 L347.8,1057.6 L348.3,1056.5 L348.8,1055.5 L349.3,1054.5 L349.8,1053.4 L350.2,1052.4 L350.6,1051.3 L351.1,1050.2 L351.5,1049.1 L351.9,1047.9 L352.3,1046.7 L352.8,1045.5 L353.2,1044.2 L353.6,1042.9 L354.0,1041.5 L354.4,1040.1 L354.7,1038.8 L355.1,1037.4 L355.4,1036.0 L355.8,1034.5 L356.1,1033.1 L356.5,1031.7 L356.8,1030.3 L357.1,1028.9 L357.4,1027.4 L357.7,1026.1 L357.9,1024.7 L358.2,1023.3 L358.5,1021.9 L358.7,1020.4 L359.0,1019.0 L359.2,1017.5 L359.4,1016.1 L359.6,1014.6 L359.8,1013.2 L360.0,1011.8 L360.2,1010.4 L360.4,1009.0 L360.6,1007.7 L360.7,1006.4 L360.9,1005.1 L361.0,1004.0 L361.2,1002.8 L361.3,1001.7 L361.4,1000.6 L361.6,999.6 L361.7,998.5 L361.8,997.5 L361.9,996.5 L362.0,995.6 L362.0,994.7 L362.1,993.8 L362.2,993.0 L362.2,992.2 L362.3,991.5 L362.4,990.9 L362.4,990.3 L362.4,989.8 L362.5,989.3 L355.5,988.7 L355.5,989.1 L355.4,989.7 L355.4,990.3 L355.3,990.9 L355.3,991.6 L355.2,992.4 L355.1,993.2 L355.1,994.0 L355.0,994.9 L354.9,995.9 L354.8,996.8 L354.7,997.8 L354.6,998.8 L354.5,999.8 L354.4,1000.9 L354.2,1002.0 L354.1,1003.1 L353.9,1004.3 L353.8,1005.5 L353.6,1006.8 L353.4,1008.1 L353.3,1009.4 L353.1,1010.8 L352.9,1012.2 L352.7,1013.6 L352.5,1015.0 L352.3,1016.4 L352.0,1017.8 L351.8,1019.2 L351.6,1020.6 L351.3,1022.0 L351.1,1023.3 L350.8,1024.7 L350.5,1026.0 L350.2,1027.4 L349.9,1028.8 L349.6,1030.2 L349.3,1031.6 L349.0,1032.9 L348.7,1034.3 L348.4,1035.7 L348.0,1037.0 L347.7,1038.3 L347.3,1039.6 L347.0,1040.9 L346.6,1042.1 L346.2,1043.3 L345.9,1044.5 L345.5,1045.6 L345.1,1046.7 L344.7,1047.8 L344.3,1048.8 L343.9,1049.8 L343.5,1050.8 L343.1,1051.8 L342.7,1052.7 L342.3,1053.6 L341.8,1054.5 L341.4,1055.4 L340.9,1056.3 L340.4,1057.2 L339.9,1058.1 L339.3,1059.0 L338.7,1060.0 L338.1,1060.9 L337.4,1061.9 L336.8,1062.8 L336.1,1063.8 L335.3,1064.8 L334.6,1065.7 L333.8,1066.7 L333.1,1067.6 L332.3,1068.6 L331.5,1069.5 L330.7,1070.4 L329.8,1071.3 L329.0,1072.1 L328.2,1072.9 L327.4,1073.7 L326.5,1074.5 L325.7,1075.2 L324.8,1075.9 L323.9,1076.7 L323.0,1077.3 L322.1,1078.0 L321.2,1078.7 L320.3,1079.3 L319.3,1079.9 L318.4,1080.5 L317.4,1081.1 L316.4,1081.6 L315.4,1082.2 L314.4,1082.7 L313.4,1083.2 L312.4,1083.6 L311.4,1084.1 L310.4,1084.5 L309.3,1084.8 L308.2,1085.2 L306.9,1085.5 L305.7,1085.8 L304.4,1086.1 L303.1,1086.4 L301.8,1086.7 L300.5,1086.9 L299.3,1087.1 L298.1,1087.4 L297.0,1087.5 L296.0,1087.7 L295.1,1087.9 L294.3,1088.0 L293.6,1088.2Z" fill="#30aca2"/><path d="M334.7,998.0 L359.9,980.3 L378.5,1006.6 L374.7,1009.0 L357.6,993.8 L337.5,1001.4Z" fill="#30aca2"/><circle cx="336.1" cy="999.7" r="2.2" fill="#30aca2"/><circle cx="376.6" cy="1007.8" r="2.2" fill="#30aca2"/><path d="M103.6,930.2 L103.7,930.6 L103.9,931.2 L104.1,931.8 L104.3,932.6 L104.5,933.4 L104.8,934.2 L105.1,935.2 L105.4,936.1 L105.7,937.1 L106.1,938.1 L106.5,939.1 L106.9,940.1 L107.5,941.1 L108.1,942.0 L108.8,942.8 L109.6,943.6 L110.4,944.2 L111.1,944.9 L111.9,945.5 L112.7,946.0 L113.6,946.6 L114.5,947.1 L115.3,947.5 L116.2,948.0 L117.2,948.4 L118.1,948.8 L119.1,949.2 L120.0,949.6 L121.0,949.9 L122.0,950.2 L123.0,950.5 L124.0,950.7 L125.1,950.9 L126.2,951.1 L127.3,951.2 L128.5,951.3 L129.7,951.4 L130.8,951.4 L132.0,951.5 L133.2,951.5 L134.3,951.5 L135.5,951.4 L136.6,951.4 L137.6,951.4 L138.7,951.3 L139.6,951.2 L140.6,951.2 L141.4,951.1 L142.3,951.0 L143.2,950.8 L144.1,950.7 L144.9,950.5 L145.7,950.3 L146.4,950.1 L147.1,949.8 L147.8,949.6 L148.4,949.4 L148.9,949.2 L149.4,949.0 L149.9,948.8 L150.3,948.6 L150.6,948.5 L150.8,948.4 L151.1,948.3 L148.9,941.7 L148.6,941.8 L148.1,941.9 L147.7,942.1 L147.3,942.3 L146.8,942.5 L146.4,942.7 L145.9,942.8 L145.4,943.0 L144.9,943.2 L144.3,943.4 L143.8,943.5 L143.2,943.7 L142.6,943.8 L142.0,943.9 L141.4,944.0 L140.8,944.1 L140.0,944.2 L139.1,944.2 L138.2,944.3 L137.3,944.4 L136.3,944.4 L135.3,944.4 L134.2,944.5 L133.2,944.5 L132.1,944.5 L131.1,944.5 L130.0,944.4 L129.0,944.3 L128.0,944.3 L127.1,944.2 L126.2,944.0 L125.4,943.9 L124.6,943.7 L123.7,943.5 L122.9,943.3 L122.0,943.1 L121.2,942.9 L120.4,942.7 L119.6,942.4 L118.8,942.1 L118.0,941.8 L117.3,941.5 L116.6,941.2 L115.9,940.8 L115.2,940.4 L114.6,940.0 L114.0,939.6 L113.4,939.2 L112.9,938.8 L112.4,938.3 L111.8,937.7 L111.2,937.1 L110.6,936.5 L109.9,935.8 L109.3,935.1 L108.7,934.3 L108.1,933.6 L107.5,932.9 L107.0,932.1 L106.5,931.5 L106.0,930.9 L105.6,930.3 L105.2,929.8 L104.8,929.4Z" fill="#30aca2"/><path d="M130.8,928.7 L157.0,941.4 L141.5,962.0 L138.1,959.0 L141.6,945.0 L129.2,932.9Z" fill="#30aca2"/><circle cx="130.0" cy="930.8" r="2.2" fill="#30aca2"/><circle cx="139.8" cy="960.5" r="2.2" fill="#30aca2"/></g>
</svg>
</body></html>
